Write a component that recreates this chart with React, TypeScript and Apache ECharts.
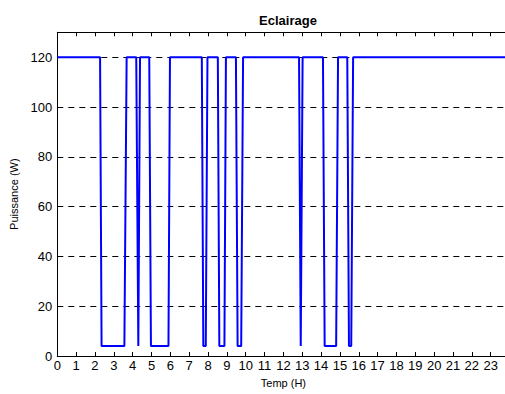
import React, { useEffect, useRef } from "react";
import * as echarts from "echarts";

// Time (hours) of each sampled point and the power (W) at that point
const times: number[] = [
  0, 2.27, 2.35, 3.56, 3.68, 4.19, 4.3, 4.39, 4.88, 4.97, 5.9, 5.98,
  7.67, 7.75, 7.88, 7.97, 8.52, 8.6, 8.87, 8.95, 9.48, 9.57, 9.76, 9.86,
  12.83, 12.92, 13.02, 14.1, 14.19, 14.8, 14.9, 15.39, 15.48, 15.6, 15.7, 24,
];
const power: number[] = [
  120, 120, 4, 4, 120, 120, 4, 120, 120, 4, 4, 120,
  120, 4, 4, 120, 120, 4, 4, 120, 120, 4, 4, 120,
  120, 4, 120, 120, 4, 4, 120, 120, 4, 4, 120, 120,
];

const title = "Eclairage";
const xName = "Temp (H)";
const yName = "Puissance (W)";

const FONT = "'Liberation Sans', Arial, Helvetica, sans-serif";

export default function App() {
  const ref = useRef<HTMLDivElement>(null);

  useEffect(() => {
    if (!ref.current) return;
    const chart = echarts.init(ref.current, undefined, { renderer: "svg" });
    const data = times.map((t, i) => [t, power[i]]);
    const axisLine = { show: true, lineStyle: { color: "#000", width: 1 } };
    chart.setOption({
      animation: false,
      backgroundColor: "#fff",
      title: {
        text: title,
        left: 283,
        top: 9,
        textAlign: "center",
        textStyle: { fontFamily: FONT, fontSize: 13, fontWeight: "bold", color: "#000" },
      },
      grid: { left: 57.3, top: 32.3, bottom: 38, right: 5.5, containLabel: false },
      xAxis: [
        {
          type: "value",
          min: 0,
          max: 24,
          interval: 1,
          name: xName,
          nameLocation: "middle",
          nameGap: 21,
          nameTextStyle: { fontFamily: FONT, fontSize: 11, color: "#000" },
          axisLine,
          axisTick: { show: true, inside: true, length: 4, lineStyle: { color: "#000" } },
          axisLabel: {
            fontFamily: FONT,
            fontSize: 13,
            color: "#000",
            margin: 3,
            showMaxLabel: false,
          },
          splitLine: { show: false },
        },
        {
          type: "value",
          position: "top",
          min: 0,
          max: 24,
          interval: 1,
          axisLine,
          axisTick: { show: true, inside: true, length: 4, lineStyle: { color: "#000" } },
          axisLabel: { show: false },
          splitLine: { show: false },
        },
      ],
      yAxis: {
        type: "value",
        min: 0,
        max: 130,
        interval: 20,
        name: yName,
        nameLocation: "middle",
        nameGap: 38,
        nameTextStyle: { fontFamily: FONT, fontSize: 11, color: "#000" },
        axisLine,
        axisTick: { show: true, inside: true, length: 4, lineStyle: { color: "#000" } },
        axisLabel: {
          fontFamily: FONT,
          fontSize: 13,
          color: "#000",
          margin: 5,
          showMaxLabel: false,
        },
        splitLine: {
          show: true,
          lineStyle: { color: "#000", width: 1, type: [6, 5] },
        },
      },
      series: [
        {
          type: "line",
          data,
          xAxisIndex: 0,
          showSymbol: false,
          symbol: "none",
          lineStyle: { color: "#0000ff", width: 2 },
          clip: true,
        },
      ],
    });
    return () => chart.dispose();
  }, []);

  return (
    <div
      style={{
        position: "fixed",
        left: 0,
        top: 0,
        width: 505,
        height: 394,
        overflow: "hidden",
        background: "#fff",
      }}
    >
      <div ref={ref} style={{ width: 515, height: 394 }} />
    </div>
  );
}
